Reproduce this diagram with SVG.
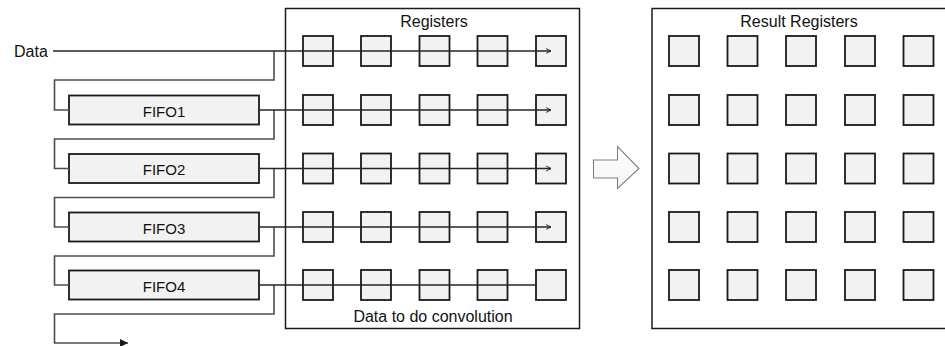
<svg xmlns="http://www.w3.org/2000/svg" width="945" height="346" viewBox="0 0 945 346">
  <defs>
    <style>
      text { font-family: "Liberation Sans", Arial, sans-serif; font-size: 16px; fill: #111111; }
      .mid { text-anchor: middle; }
      .frame { fill: #ffffff; stroke: #1a1a1a; stroke-width: 1.5; }
      .reg { fill: #f2f2f2; stroke: #1a1a1a; stroke-width: 1.8; }
      .fifo { fill: #f2f2f2; stroke: #1a1a1a; stroke-width: 1.8; }
      .wire { fill: none; stroke: #262626; stroke-width: 1.3; }
      .elbow { fill: none; stroke: #4d4d4d; stroke-width: 1.6; }
    </style>
    <marker id="open" viewBox="0 0 10 10" refX="9" refY="5" markerWidth="6" markerHeight="8" markerUnits="userSpaceOnUse" orient="auto">
      <path d="M1,1 L9,5 L1,9" fill="none" stroke="#262626" stroke-width="1.6"/>
    </marker>
    <marker id="solid" viewBox="0 0 10 10" refX="10" refY="5" markerWidth="9" markerHeight="8" markerUnits="userSpaceOnUse" orient="auto">
      <path d="M0,0 L10,5 L0,10 Z" fill="#1a1a1a"/>
    </marker>
    <linearGradient id="arrowFill" x1="0" y1="0" x2="0" y2="1">
      <stop offset="0" stop-color="#ffffff"/>
      <stop offset="1" stop-color="#f3f3f3"/>
    </linearGradient>
  </defs>

  <g id="registers">
    <rect class="frame" x="285.5" y="8.5" width="294" height="320"/>
    <text class="mid" x="434" y="27">Registers</text>
    <text class="mid" x="433" y="321.5">Data to do convolution</text>
    <g id="reg-cells">
      <rect class="reg" x="303" y="36" width="30" height="30"/>
      <rect class="reg" x="361" y="36" width="30" height="30"/>
      <rect class="reg" x="419.5" y="36" width="30" height="30"/>
      <rect class="reg" x="477.5" y="36" width="30" height="30"/>
      <rect class="reg" x="536" y="36" width="30" height="30"/>
      <rect class="reg" x="303" y="95" width="30" height="30"/>
      <rect class="reg" x="361" y="95" width="30" height="30"/>
      <rect class="reg" x="419.5" y="95" width="30" height="30"/>
      <rect class="reg" x="477.5" y="95" width="30" height="30"/>
      <rect class="reg" x="536" y="95" width="30" height="30"/>
      <rect class="reg" x="303" y="153.5" width="30" height="30"/>
      <rect class="reg" x="361" y="153.5" width="30" height="30"/>
      <rect class="reg" x="419.5" y="153.5" width="30" height="30"/>
      <rect class="reg" x="477.5" y="153.5" width="30" height="30"/>
      <rect class="reg" x="536" y="153.5" width="30" height="30"/>
      <rect class="reg" x="303" y="212" width="30" height="30"/>
      <rect class="reg" x="361" y="212" width="30" height="30"/>
      <rect class="reg" x="419.5" y="212" width="30" height="30"/>
      <rect class="reg" x="477.5" y="212" width="30" height="30"/>
      <rect class="reg" x="536" y="212" width="30" height="30"/>
      <rect class="reg" x="303" y="270" width="30" height="30"/>
      <rect class="reg" x="361" y="270" width="30" height="30"/>
      <rect class="reg" x="419.5" y="270" width="30" height="30"/>
      <rect class="reg" x="477.5" y="270" width="30" height="30"/>
      <rect class="reg" x="536" y="270" width="30" height="30"/>
    </g>
  </g>

  <g id="result-registers">
    <rect class="frame" x="652" y="8.5" width="300" height="320"/>
    <text class="mid" x="799" y="27">Result Registers</text>
    <rect class="reg" x="669" y="36" width="30" height="30"/>
    <rect class="reg" x="727.5" y="36" width="30" height="30"/>
    <rect class="reg" x="786" y="36" width="30" height="30"/>
    <rect class="reg" x="845" y="36" width="30" height="30"/>
    <rect class="reg" x="903.5" y="36" width="30" height="30"/>
    <rect class="reg" x="669" y="95" width="30" height="30"/>
    <rect class="reg" x="727.5" y="95" width="30" height="30"/>
    <rect class="reg" x="786" y="95" width="30" height="30"/>
    <rect class="reg" x="845" y="95" width="30" height="30"/>
    <rect class="reg" x="903.5" y="95" width="30" height="30"/>
    <rect class="reg" x="669" y="153.5" width="30" height="30"/>
    <rect class="reg" x="727.5" y="153.5" width="30" height="30"/>
    <rect class="reg" x="786" y="153.5" width="30" height="30"/>
    <rect class="reg" x="845" y="153.5" width="30" height="30"/>
    <rect class="reg" x="903.5" y="153.5" width="30" height="30"/>
    <rect class="reg" x="669" y="212" width="30" height="30"/>
    <rect class="reg" x="727.5" y="212" width="30" height="30"/>
    <rect class="reg" x="786" y="212" width="30" height="30"/>
    <rect class="reg" x="845" y="212" width="30" height="30"/>
    <rect class="reg" x="903.5" y="212" width="30" height="30"/>
    <rect class="reg" x="669" y="270" width="30" height="30"/>
    <rect class="reg" x="727.5" y="270" width="30" height="30"/>
    <rect class="reg" x="786" y="270" width="30" height="30"/>
    <rect class="reg" x="845" y="270" width="30" height="30"/>
    <rect class="reg" x="903.5" y="270" width="30" height="30"/>
  </g>

  <g id="transfer-arrow">
    <path d="M593.5,160 L617.5,160 L617.5,146.5 L639,168.5 L617.5,188.5 L617.5,178 L593.5,178 Z" fill="url(#arrowFill)" stroke="#808080" stroke-width="1.1"/>
  </g>

  <g id="data-label">
    <text x="14" y="56.5">Data</text>
  </g>

  <g id="fifo1"><rect class="fifo" x="69" y="95.5" width="190" height="29"/><text class="mid" x="164" y="116.5" style="font-size:15px">FIFO1</text></g>
  <g id="fifo2"><rect class="fifo" x="69" y="154" width="190" height="29"/><text class="mid" x="164" y="175" style="font-size:15px">FIFO2</text></g>
  <g id="fifo3"><rect class="fifo" x="69" y="212.5" width="190" height="29"/><text class="mid" x="164" y="233.5" style="font-size:15px">FIFO3</text></g>
  <g id="fifo4"><rect class="fifo" x="69" y="270.5" width="190" height="29"/><text class="mid" x="164" y="291.5" style="font-size:15px">FIFO4</text></g>

  <g id="connectors">
    <path class="elbow" d="M274,51 V80 H54.5 V110 H69"/>
    <path class="elbow" d="M274,110 V139 H54.5 V168.5 H69"/>
    <path class="elbow" d="M274,168.5 V197.5 H54.5 V227 H69"/>
    <path class="elbow" d="M274,227 V256 H54.5 V285 H69"/>
    <path class="elbow" d="M274,285 V314 H54.5 V343 H128" marker-end="url(#solid)"/>
    <path class="wire" d="M53,51 H551" marker-end="url(#open)"/>
    <path class="wire" d="M259,110 H551" marker-end="url(#open)"/>
    <path class="wire" d="M259,168.5 H551" marker-end="url(#open)"/>
    <path class="wire" d="M259,227 H551" marker-end="url(#open)"/>
    <path class="wire" d="M259,285 H536"/>
  </g>
</svg>
